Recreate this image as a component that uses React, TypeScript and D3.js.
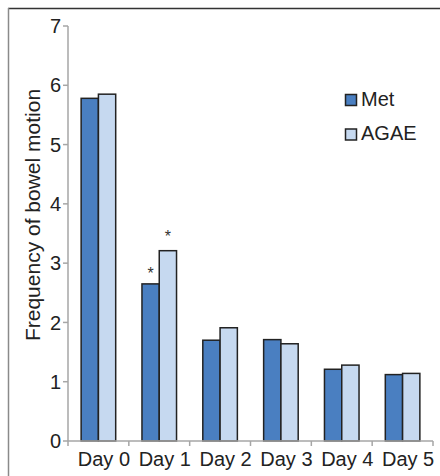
import React from "react";
import * as d3 from "d3";

const days = ["Day 0", "Day 1", "Day 2", "Day 3", "Day 4", "Day 5"];
const seriesNames = ["Met", "AGAE"];
const metValues = [5.78, 2.65, 1.7, 1.71, 1.21, 1.12];
const agaeValues = [5.85, 3.21, 1.91, 1.64, 1.28, 1.14];
const yTicks = [0, 1, 2, 3, 4, 5, 6, 7];
const significant = [
  { day: "Day 1", series: "Met" },
  { day: "Day 1", series: "AGAE" },
];

const W = 440;
const H = 476;
const colors: Record<string, string> = { Met: "#4a7fc1", AGAE: "#c6d9f0" };
const font = "'Liberation Sans', Arial, Helvetica, sans-serif";

export default function App() {
  const left = 68;
  const right = 433;
  const top = 26;
  const bottom = 441;
  const x0 = d3.scaleBand<string>().domain(days).range([left, right]).paddingInner(0).paddingOuter(0);
  const x1 = d3
    .scaleBand<string>()
    .domain(seriesNames)
    .range([0, x0.bandwidth()])
    .paddingInner(0)
    .paddingOuter(0.76);
  const y = d3.scaleLinear().domain([0, 7]).range([bottom, top]);
  const valuesBy: Record<string, number[]> = { Met: metValues, AGAE: agaeValues };
  const axisColor = "#a6a6a6";
  const boundaries = [...days.map((d) => x0(d) as number), right];

  return (
    <svg width={W} height={H} style={{ position: "absolute", left: 0, top: 0, background: "#fff" }} fontFamily={font}>
      <rect x={0} y={0} width={W} height={H} fill="#fff" />
      {/* frame */}
      <line x1={8} x2={W} y1={8.5} y2={8.5} stroke="#333" strokeWidth={1.5} />
      <line x1={8.5} x2={8.5} y1={8} y2={H} stroke="#8a8a8a" strokeWidth={1.5} />

      {/* y axis */}
      <line x1={left} x2={left} y1={y(7)} y2={y(0)} stroke={axisColor} strokeWidth={1.5} />
      {yTicks.map((t) => (
        <g key={t}>
          <line x1={left - 5} x2={left} y1={y(t)} y2={y(t)} stroke={axisColor} strokeWidth={1.5} />
          <text x={61} y={y(t)} dy="0.36em" textAnchor="end" fontSize={20} fill="#222">
            {t}
          </text>
        </g>
      ))}
      <text
        transform={`translate(40,215) rotate(-90)`}
        textAnchor="middle"
        fontSize={21}
        fill="#222"
      >
        Frequency of bowel motion
      </text>

      {/* bars */}
      {days.map((d, i) => (
        <g key={d}>
          {seriesNames.map((s) => {
            const v = valuesBy[s][i];
            const bx = (x0(d) as number) + (x1(s) as number);
            return (
              <rect
                key={s}
                x={bx}
                y={y(v)}
                width={x1.bandwidth()}
                height={y(0) - y(v)}
                fill={colors[s]}
                stroke="#222"
                strokeWidth={1.5}
              />
            );
          })}
        </g>
      ))}

      {/* significance */}
      {significant.map((a) => {
        const i = days.indexOf(a.day);
        const v = valuesBy[a.series][i];
        const cx = (x0(a.day) as number) + (x1(a.series) as number) + x1.bandwidth() / 2;
        const off = a.series === "Met" ? 5 : 9;
        return (
          <text key={a.series} x={cx} y={y(v) - off} textAnchor="middle" fontSize={16} fill="#333">
            *
          </text>
        );
      })}

      {/* x axis */}
      <line x1={left} x2={right} y1={y(0)} y2={y(0)} stroke={axisColor} strokeWidth={1.5} />
      {boundaries.map((bx, i) => (
        <line key={i} x1={bx} x2={bx} y1={y(0)} y2={y(0) + 5} stroke={axisColor} strokeWidth={1.5} />
      ))}
      {days.map((d) => (
        <text
          key={d}
          x={(x0(d) as number) + x0.bandwidth() / 2 + 5.5}
          y={466}
          textAnchor="middle"
          fontSize={20}
          fill="#222"
        >
          {d}
        </text>
      ))}

      {/* legend */}
      {seriesNames.map((s, i) => (
        <g key={s} transform={`translate(345,${94 + i * 34.5})`}>
          <rect x={0.5} y={0.5} width={11} height={11} fill={colors[s]} stroke="#222" strokeWidth={1.5} />
          <text x={16} y={11.5} fontSize={20} fill="#222">
            {s}
          </text>
        </g>
      ))}
    </svg>
  );
}
